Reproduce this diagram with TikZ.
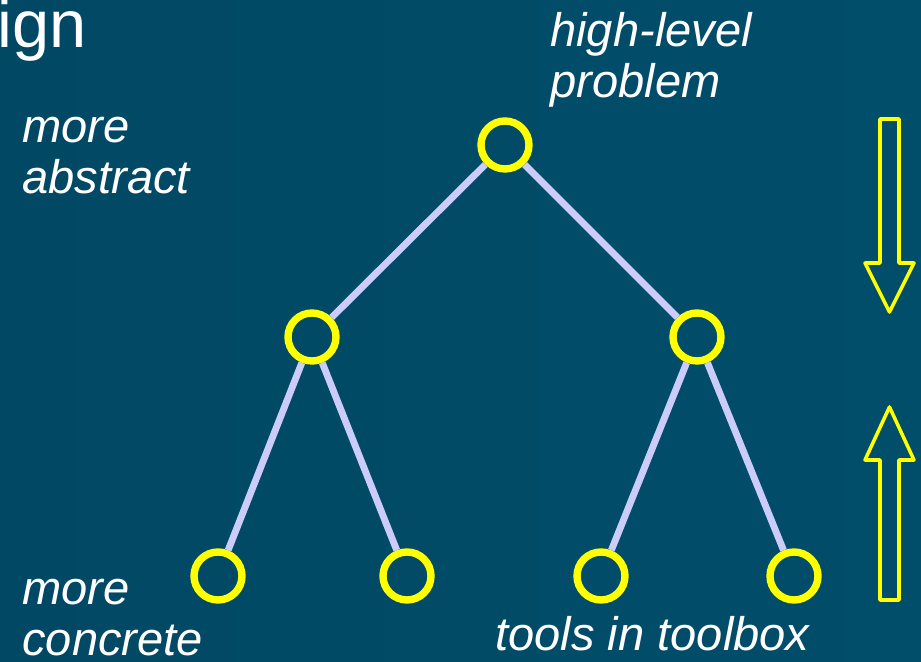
\documentclass[tikz,border=0pt]{standalone}
\usepackage{fontspec}
\setmainfont{Liberation Sans}
\usepackage{xcolor}
\usetikzlibrary{positioning}
\definecolor{slideleft}{RGB}{1,72,100}
\definecolor{slidemid}{RGB}{2,88,120}
\definecolor{slideright}{RGB}{1,78,106}
\definecolor{edgelav}{RGB}{204,204,250}
\definecolor{ringyel}{RGB}{255,255,0}

\begin{document}
\begin{tikzpicture}[x=0.02cm,y=-0.02cm,
  ring/.style={circle,draw=ringyel,line width=4.2pt,minimum size=0.96cm,inner sep=0pt},
  branch/.style={draw=edgelav,line width=3.9pt},
  slidetext/.style={text=white,font=\fontsize{26.8}{29.5}\selectfont\itshape,align=left,inner sep=0pt,anchor=base west},
  bigarrow/.style={draw=ringyel,line width=2pt,line join=round}]
  \useasboundingbox (0,0) rectangle (921,662);
  \shade[left color=slideleft,middle color=slidemid,right color=slideright] (0,0) rectangle (921,662);
  \node[text=white,font=\fontsize{38}{44}\selectfont,inner sep=0pt,anchor=base west] (title) at (-3,48) {ign};
  \node[slidetext] (abstract) at (22,194) {more\\abstract};
  \node[slidetext] (problem) at (550,98) {high-level\\problem};
  \node[slidetext] (concrete) at (22,656) {more\\concrete};
  \node[slidetext] (toolbox) at (495,651) {tools in toolbox};
  \node[ring] (top) at (505,145) {};
  \node[ring] (midl) at (312,337) {};
  \node[ring] (midr) at (697,337) {};
  \node[ring] (leafa) at (218,576) {};
  \node[ring] (leafb) at (407,576) {};
  \node[ring] (leafc) at (601,576) {};
  \node[ring] (leafd) at (794,576) {};
  \draw[branch] (top) -- (midl);
  \draw[branch] (top) -- (midr);
  \draw[branch] (midl) -- (leafa);
  \draw[branch] (midl) -- (leafb);
  \draw[branch] (midr) -- (leafc);
  \draw[branch] (midr) -- (leafd);
  \draw[bigarrow] (880,119) -- (899,119) -- (899,263) -- (914,263) -- (889.5,312) -- (865,263) -- (880,263) -- cycle;
  \draw[bigarrow] (889.5,407) -- (914,460) -- (899,460) -- (899,600) -- (880,600) -- (880,460) -- (865,460) -- cycle;
\end{tikzpicture}
\end{document}
